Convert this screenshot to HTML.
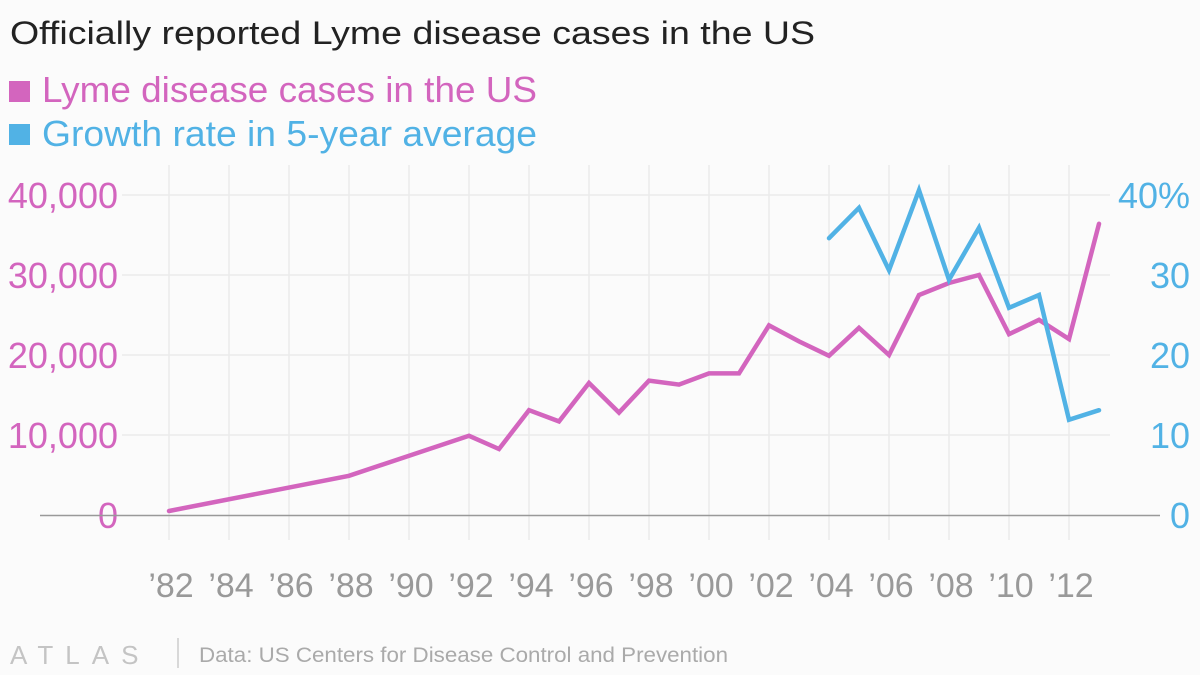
<!DOCTYPE html>
<html><head><meta charset="utf-8"><style>
body{margin:0;background:#fbfbfb;font-family:"Liberation Sans",sans-serif;}
svg{display:block}
</style></head><body>
<svg id="chart" width="1200" height="675" xmlns="http://www.w3.org/2000/svg">
<rect width="1200" height="675" fill="#fbfbfb"/>
<text x="10" y="44" font-size="32" fill="#222" textLength="805" lengthAdjust="spacingAndGlyphs">Officially reported Lyme disease cases in the US</text>
<rect x="9" y="81" width="21" height="21" fill="#d365be"/>
<text x="42" y="102" font-size="36" fill="#d365be" textLength="495" lengthAdjust="spacingAndGlyphs">Lyme disease cases in the US</text>
<rect x="9" y="124" width="21" height="21" fill="#51b2e5"/>
<text x="42" y="146" font-size="36" fill="#51b2e5" textLength="495" lengthAdjust="spacingAndGlyphs">Growth rate in 5-year average</text>
<g id="grid"></g><g id="axes"></g><g id="lines"></g>
<text x="10" y="664" font-size="26" fill="#c4c4c4" letter-spacing="12">ATLAS</text>
<line x1="178" y1="638" x2="178" y2="668" stroke="#ccc" stroke-width="1.5"/>
<text x="199" y="662" font-size="21" fill="#aaa" textLength="529" lengthAdjust="spacingAndGlyphs">Data: US Centers for Disease Control and Prevention</text>
</svg>
<script>
const caseYears=[1982,1988,1992,1993,1994,1995,1996,1997,1998,1999,2000,2001,2002,2003,2004,2005,2006,2007,2008,2009,2010,2011,2012,2013];
const caseValues=[500,4900,9900,8250,13100,11700,16500,12800,16800,16300,17700,17700,23700,21700,19900,23400,20000,27500,29000,30000,22600,24400,22000,36400];
const growthYears=[2004,2005,2006,2007,2008,2009,2010,2011,2012,2013];
const growthValues=[34.6,38.4,30.6,40.6,29.4,35.9,25.9,27.5,11.9,13.1];
const leftTicks=[0,10000,20000,30000,40000];
const leftTickLabels=["0","10,000","20,000","30,000","40,000"];
const rightTicks=[0,10,20,30,40];
const rightTickLabels=["0","10","20","30","40%"];
const xTicks=[1982,1984,1986,1988,1990,1992,1994,1996,1998,2000,2002,2004,2006,2008,2010,2012];
const xTickLabels=["’82","’84","’86","’88","’90","’92","’94","’96","’98","’00","’02","’04","’06","’08","’10","’12"];

const NS="http://www.w3.org/2000/svg";
const x=y=>169+30*(y-1982);
const yL=v=>515-v*0.008;
const yR=v=>515-v*8;
function mk(tag,attrs,parent,txt){const e=document.createElementNS(NS,tag);for(const k in attrs)e.setAttribute(k,attrs[k]);if(txt!==undefined)e.textContent=txt;document.getElementById(parent).appendChild(e);return e;}

xTicks.forEach((t,i)=>{
  const g=mk('line',{x1:x(t),x2:x(t),y1:165,y2:540,stroke:'#ebebeb','stroke-width':1.5},'grid');
  
  
  const l=mk('text',{x:x(t)+2,y:597,'font-size':34,fill:'#999','text-anchor':'middle'},'axes',xTickLabels[i]);
  
  
});
leftTicks.forEach((t,i)=>{
  if(t!==0){const g=mk('line',{x1:122,x2:1110,y1:yL(t),y2:yL(t),stroke:'#ebebeb','stroke-width':1.5},'grid');
  
  }
  const l=mk('text',{x:118,y:yL(t)+13,'font-size':36,fill:'#d365be','text-anchor':'end'},'axes',leftTickLabels[i]);
  
  
});
rightTicks.forEach((t,i)=>{
  const l=mk('text',{x:1190,y:yR(t)+13,'font-size':36,fill:'#51b2e5','text-anchor':'end'},'axes',rightTickLabels[i]);
  
  
});
const z=mk('line',{x1:40,x2:1160,y1:515.5,y2:515.5,stroke:'#999','stroke-width':1.5},'axes');



const p1=mk('polyline',{points:caseYears.map((y,i)=>x(y)+','+yL(caseValues[i])).join(' '),fill:'none',stroke:'#d365be','stroke-width':4.5,'stroke-linejoin':'miter','stroke-linecap':'round'},'lines');


const p2=mk('polyline',{points:growthYears.map((y,i)=>x(y)+','+yR(growthValues[i])).join(' '),fill:'none',stroke:'#51b2e5','stroke-width':4.5,'stroke-linejoin':'miter','stroke-linecap':'round'},'lines');


</script>
</body></html>
